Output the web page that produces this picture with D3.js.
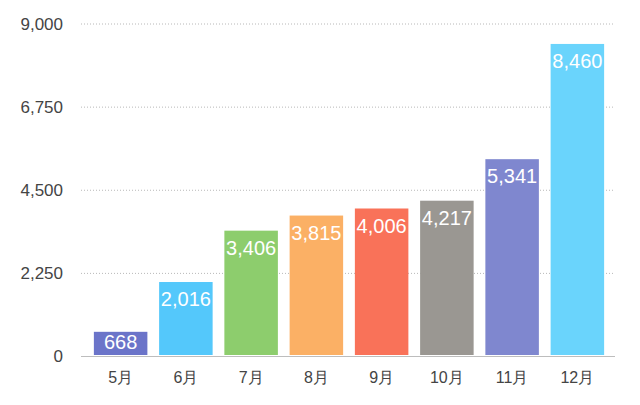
<!DOCTYPE html>
<html>
<head>
<meta charset="utf-8">
<script src="https://cdn.jsdelivr.net/npm/d3@7"></script>
<style>
  body { margin: 0; background: #fff; }
  text { font-family: "Liberation Sans", Arial, sans-serif; }
</style>
</head>
<body>
<div id="chart"></div>
<script>
const months = ["5月", "6月", "7月", "8月", "9月", "10月", "11月", "12月"];
const values = [668, 2016, 3406, 3815, 4006, 4217, 5341, 8460];
const colors = ["#6b74c9", "#54c8fb", "#8dcd6d", "#fbb065", "#f97259", "#9a9792", "#7f87cf", "#6ad4fc"];
const yTicks = [0, 2250, 4500, 6750, 9000];

const width = 640;
const height = 405;

const svg = d3
  .select("#chart")
  .append("svg")
  .attr("width", width)
  .attr("height", height);

const x = d3
  .scaleBand()
  .domain(months)
  .range([88, 610])
  .paddingInner(0.18)
  .paddingOuter(0.09);

const y = d3.scaleLinear().domain([0, 9000]).range([356.5, 24]);

const fmt = d3.format(",");

// grid lines
svg
  .selectAll(".grid")
  .data(yTicks.filter((d) => d > 0))
  .enter()
  .append("line")
  .attr("x1", 81)
  .attr("x2", 615)
  .attr("y1", (d) => y(d))
  .attr("y2", (d) => y(d))
  .attr("stroke", "#b8b8b8")
  .attr("stroke-width", 1)
  .attr("stroke-dasharray", "1,2");

// y labels
svg
  .selectAll(".ylab")
  .data(yTicks)
  .enter()
  .append("text")
  .attr("x", 63)
  .attr("y", (d) => y(d))
  .attr("dy", "0.35em")
  .attr("text-anchor", "end")
  .style("font-size", "17px")
  .style("fill", "#444")
  .text((d) => fmt(d));

// bars
svg
  .selectAll(".bar")
  .data(values)
  .enter()
  .append("rect")
  .attr("x", (d, i) => x(months[i]))
  .attr("y", (d) => y(d))
  .attr("width", x.bandwidth())
  .attr("height", (d) => y(0) - y(d) - 1.5)
  .attr("fill", (d, i) => colors[i]);

// baseline
svg
  .append("line")
  .attr("x1", 81)
  .attr("x2", 615)
  .attr("y1", y(0))
  .attr("y2", y(0))
  .attr("stroke", "#bdbdbd")
  .attr("stroke-width", 1);

// value labels
svg
  .selectAll(".vlab")
  .data(values)
  .enter()
  .append("text")
  .attr("x", (d, i) => x(months[i]) + x.bandwidth() / 2)
  .attr("y", (d) => Math.min(y(d) + 17, y(0) - 15))
  .attr("dy", "0.35em")
  .attr("text-anchor", "middle")
  .style("font-size", "20px")
  .style("fill", "#fff")
  .text((d) => fmt(d));

// x labels
svg
  .selectAll(".xlab")
  .data(months)
  .enter()
  .append("text")
  .attr("x", (d) => x(d) + x.bandwidth() / 2)
  .attr("y", 377)
  .attr("dy", "0.35em")
  .attr("text-anchor", "middle")
  .style("font-size", "16px")
  .style("fill", "#444")
  .text((d) => d);
</script>
</body>
</html>
